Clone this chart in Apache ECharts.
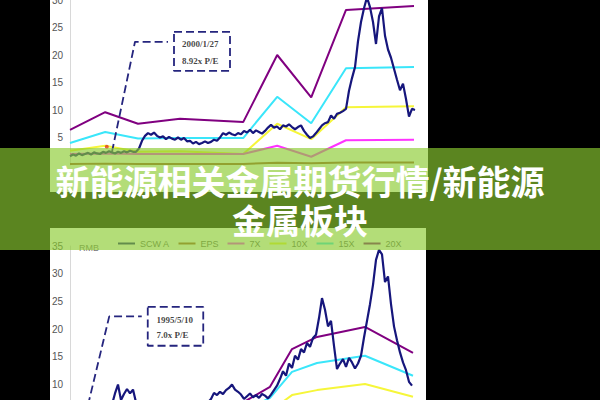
<!DOCTYPE html>
<html><head><meta charset="utf-8">
<script src="https://cdn.jsdelivr.net/npm/echarts@6/dist/echarts.min.js"></script>
<style>html,body{margin:0;padding:0;background:#000;}#c{width:600px;height:400px;}</style>
</head><body><div id="c"></div>
<script>
// ---------- Top chart (P/E band, 2000/1/27 8.92x P/E) ----------
const topBandYears = [1999.0, 1999.88, 2000.7, 2001.75, 2003.33, 2004.18, 2005.03, 2005.9, 2007.6];
const top20X = [6.4, 9.6, 7.5, 8.4, 7.8, 20.0, 12.3, 28.2, 28.9];
const top15X = [4.0, 6.0, 4.8, 4.9, 4.9, 12.4, 7.6, 17.6, 17.8];
const top10X = [2.6, 3.5, 2.4, 2.5, 2.0, 7.5, 4.7, 10.5, 10.7];
const top7X  = [2.0, 2.1, 2.0, 2.0, 2.0, 3.5, 1.5, 4.5, 4.6];
const topEPS = [0.2, 0.25, 0.2, 0.2, 0.2, 0.4, 0.3, 0.45, 0.45];
const topPriceStart = 1999.0;
const topPriceStep = 0.075;
const topPrice = [1.6,1.9,1.7,2.1,1.8,2.0,2.2,1.9,2.3,2.1,2.0,2.4,2.2,2.5,2.3,2.1,2.4,2.2,2.5,2.3,2.6,2.4,
  2.4,3.0,4.4,5.3,5.8,5.5,5.9,5.3,5.0,5.2,4.7,5.1,4.8,4.6,5.0,4.6,4.9,4.3,4.4,3.9,
  4.2,3.8,4.0,4.3,4.0,4.2,4.6,4.4,5.0,5.8,5.5,5.9,5.6,5.4,5.8,5.6,6.2,5.9,6.4,5.8,
  6.3,6.0,5.7,6.2,6.8,7.3,6.8,7.0,6.5,7.2,7.0,7.4,6.9,6.5,6.9,7.2,6.2,5.5,4.9,5.2,
  5.8,6.5,7.2,7.6,7.8,9.0,8.4,9.3,9.5,9.8,10.2,13.5,15.8,17.8,22.5,26.0,28.5,30.5,28.7,26.0,
  22.0,27.0,28.5,23.5,21.0,19.5,17.5,15.5,13.6,14.8,12.0,8.8,10.2,10.0];
const topMarkPoint = [1999.92, 3.3];
const topLeader = [[2000.05, 2.4], [2000.625, 22.4], [2001.45, 22.4]];
const topBox = [2001.6, 24.2, 2003.0, 17.1];
const topNoteAt = [[2001.79, 22.0], [2001.79, 18.9]];
const topNoteText = ['2000/1/27', '8.92x P/E'];

// ---------- Bottom chart (P/E band, 1995/5/10 7.0x P/E) ----------
const botBandYears = [1994.5, 1997.7, 2000.9, 2002.5, 2003.38, 2004.38, 2006.3, 2008.22];
const bot20X = [4.2, 4.8, 5.4, 9.6, 16.4, 18.6, 20.4, 15.7];
const bot15X = [3.0, 3.4, 4.0, 7.6, 12.3, 13.9, 15.2, 11.6];
const bot10X = [2.0, 2.3, 2.7, 5.2, 8.1, 9.0, 10.1, 7.8];
const bot7X  = [1.4, 1.6, 1.9, 3.4, 5.4, 6.2, 6.8, 5.3];
const botEPS = [0.2, 0.23, 0.27, 0.5, 0.8, 0.9, 1.0, 0.78];
const botPriceStart = 1994.5;
const botPriceStep = 0.12;
const botPrice = [4.5,4.8,5.1,4.9,5.4,5.8,6.2,6.0,5.6,5.9,
  5.4,5.8,6.2,6.6,6.4,8.4,10.0,7.2,8.3,9.2,
  8.4,9.1,6.8,6.0,5.6,5.2,5.5,5.0,4.8,5.1,
  4.6,4.4,4.8,4.5,4.2,4.6,4.4,4.9,5.2,5.0,
  5.5,5.3,5.9,6.2,6.0,6.5,6.8,7.4,8.5,8.1,
  8.7,8.3,9.0,9.4,10.0,9.1,8.7,8.2,7.4,7.9,
  8.4,7.7,8.1,7.6,8.3,8.0,7.5,8.2,9.0,9.8,
  11.0,12.4,11.6,13.8,13.0,15.2,14.5,16.4,15.8,17.5,
  16.8,18.4,19.0,22.0,25.6,23.5,20.5,21.5,17.0,12.8,
  13.8,14.6,13.2,14.8,14.0,12.9,13.8,15.2,18.5,21.5,
  24.5,28.0,32.5,34.3,33.5,28.5,29.5,24.5,20.5,18.0,
  15.8,14.0,12.6,10.5,9.8];
const botLeader = [[1995.22, 6.3], [1996.07, 22.3], [1997.37, 22.3]];
const botBox = [1997.61, 24.0, 1999.83, 17.0];
const botNoteAt = [[1997.94, 21.7], [1997.94, 18.9]];
const botNoteText = ['1995/5/10', '7.0x P/E'];

const legendNames = ['SCW A', 'EPS', '7X', '10X', '15X', '20X'];
const yTicksTop = [0, 30, 5];
const yTicksBot = [0, 35, 5];
const yLabelFloorTop = 5;
const yLabelFloorBot = 10;

const bannerLine1 = '新能源相关金属期货行情/新能源';
const bannerLine2 = '金属板块';

// ---------- build ----------
const C = { navy:'#16167c', purple:'#800080', cyan:'#3ae6fa', yellow:'#f6f63a', magenta:'#ff33ff', eps:'#a0522d', dash:'#25257e' };
const pairs = (xs, ys) => xs.map((x, i) => [x, ys[i]]);
const seq = (x0, step, ys) => ys.map((y, i) => [+(x0 + i * step).toFixed(3), y]);
const boxPath = b => [[b[0], b[1]], [b[2], b[1]], [b[2], b[3]], [b[0], b[3]], [b[0], b[1]]];

function lineS(name, data, color, idx, extra) {
  return Object.assign({
    type: 'line', name, data, xAxisIndex: idx, yAxisIndex: idx, color,
    showSymbol: false, symbol: 'none', z: 10,
    lineStyle: { color, width: 2 }, animation: false, silent: true
  }, extra || {});
}
function noteS(pts, texts, idx) {
  return {
    type: 'scatter', name: 'note' + idx, xAxisIndex: idx, yAxisIndex: idx, z: 11, silent: true,
    symbolSize: 1, itemStyle: { color: 'rgba(0,0,0,0)' },
    data: pts.map((p, i) => ({ value: p, name: texts[i] })),
    label: { show: true, position: 'right', distance: 0, formatter: '{b}', color: '#111',
      fontFamily: 'Liberation Serif', fontWeight: 'bold', fontSize: 9 }
  };
}
const dashStyle = { color: C.dash, width: 1.8, type: [8, 4] };

const series = [
  lineS('20X', pairs(topBandYears, top20X), C.purple, 0),
  lineS('15X', pairs(topBandYears, top15X), C.cyan, 0),
  lineS('10X', pairs(topBandYears, top10X), C.yellow, 0),
  lineS('7X', pairs(topBandYears, top7X), C.magenta, 0),
  lineS('EPS', pairs(topBandYears, topEPS), C.eps, 0),
  lineS('SCW A', seq(topPriceStart, topPriceStep, topPrice), C.navy, 0, { lineStyle: { color: C.navy, width: 2.2 } }),
  { type: 'scatter', name: 'pt', xAxisIndex: 0, yAxisIndex: 0, data: [topMarkPoint], symbolSize: 4, itemStyle: { color: '#e03a1e' }, z: 11, silent: true },
  lineS('leader0', topLeader, C.dash, 0, { lineStyle: dashStyle, z: 12 }),
  lineS('box0', boxPath(topBox), C.dash, 0, { lineStyle: dashStyle, z: 12 }),
  noteS(topNoteAt, topNoteText, 0),

  lineS('EPS', pairs(botBandYears, botEPS), C.eps, 1),
  lineS('7X', pairs(botBandYears, bot7X), C.magenta, 1),
  lineS('10X', pairs(botBandYears, bot10X), C.yellow, 1),
  lineS('15X', pairs(botBandYears, bot15X), C.cyan, 1),
  lineS('20X', pairs(botBandYears, bot20X), C.purple, 1),
  lineS('SCW A', seq(botPriceStart, botPriceStep, botPrice), C.navy, 1, { lineStyle: { color: C.navy, width: 2.2 } }),
  lineS('leader1', botLeader, C.dash, 1, { lineStyle: dashStyle, z: 12 }),
  lineS('box1', boxPath(botBox), C.dash, 1, { lineStyle: dashStyle, z: 12 }),
  noteS(botNoteAt, botNoteText, 1)
];

function yAx(gi, t, floor) {
  return {
    type: 'value', gridIndex: gi, min: t[0], max: t[1], interval: t[2], z: 5,
    axisLine: { show: true, lineStyle: { color: '#d8d8d8', width: 1 } },
    axisTick: { show: false }, splitLine: { show: false },
    axisLabel: { color: '#555', fontSize: 10, fontFamily: 'Liberation Sans', margin: 7,
      hideOverlap: false, showMinLabel: true, showMaxLabel: true,
      formatter: v => (v < floor ? '' : String(v)) }
  };
}

const option = {
  backgroundColor: '#000',
  animation: false,
  grid: [
    { left: 70, top: 0, width: 344, height: 165, outerBoundsMode: 'none', containLabel: false },
    { left: 70, top: 246, width: 344, height: 194, outerBoundsMode: 'none', containLabel: false }
  ],
  xAxis: [
    { type: 'value', gridIndex: 0, min: 1999.0, max: 2007.6, show: false },
    { type: 'value', gridIndex: 1, min: 1994.5, max: 2008.26, show: false }
  ],
  yAxis: [yAx(0, yTicksTop, yLabelFloorTop), yAx(1, yTicksBot, yLabelFloorBot)],
  legend: {
    left: 113, top: 234, icon: 'rect', itemWidth: 17, itemHeight: 2, itemGap: 9, z: 5,
    selectedMode: false, data: legendNames,
    textStyle: { fontSize: 9, color: '#666', fontFamily: 'Liberation Sans' }
  },
  series,
  graphic: { elements: [
    { type: 'rect', z: -10, shape: { x: 50, y: 0, width: 378, height: 192 }, style: { fill: '#fff' }, silent: true },
    { type: 'rect', z: -10, shape: { x: 50, y: 228, width: 376, height: 172 }, style: { fill: '#fff' }, silent: true },
    { type: 'text', z: 6, x: 79, y: 248, silent: true,
      style: { text: 'RMB', fill: '#777', fontSize: 9, fontFamily: 'Liberation Sans', textAlign: 'left', textVerticalAlign: 'middle' } },
    { type: 'rect', z: 50, shape: { x: 0, y: 148, width: 600, height: 102 }, style: { fill: 'rgba(139,203,49,0.655)' }, silent: true },
    { type: 'text', z: 51, x: 300, y: 180, silent: true,
      style: { text: bannerLine1, fill: '#fff', fontSize: 34, fontWeight: 'bold', fontFamily: 'Noto Sans CJK SC',
        textAlign: 'center', textVerticalAlign: 'middle', shadowColor: 'rgba(0,0,0,0.55)', shadowBlur: 3 } },
    { type: 'text', z: 51, x: 300, y: 219, silent: true,
      style: { text: bannerLine2, fill: '#fff', fontSize: 34, fontWeight: 'bold', fontFamily: 'Noto Sans CJK SC',
        textAlign: 'center', textVerticalAlign: 'middle', shadowColor: 'rgba(0,0,0,0.55)', shadowBlur: 3 } }
  ] }
};

const chart = echarts.init(document.getElementById('c'), null, { renderer: 'svg', width: 600, height: 400 });
chart.setOption(option);
</script>
</body></html>
